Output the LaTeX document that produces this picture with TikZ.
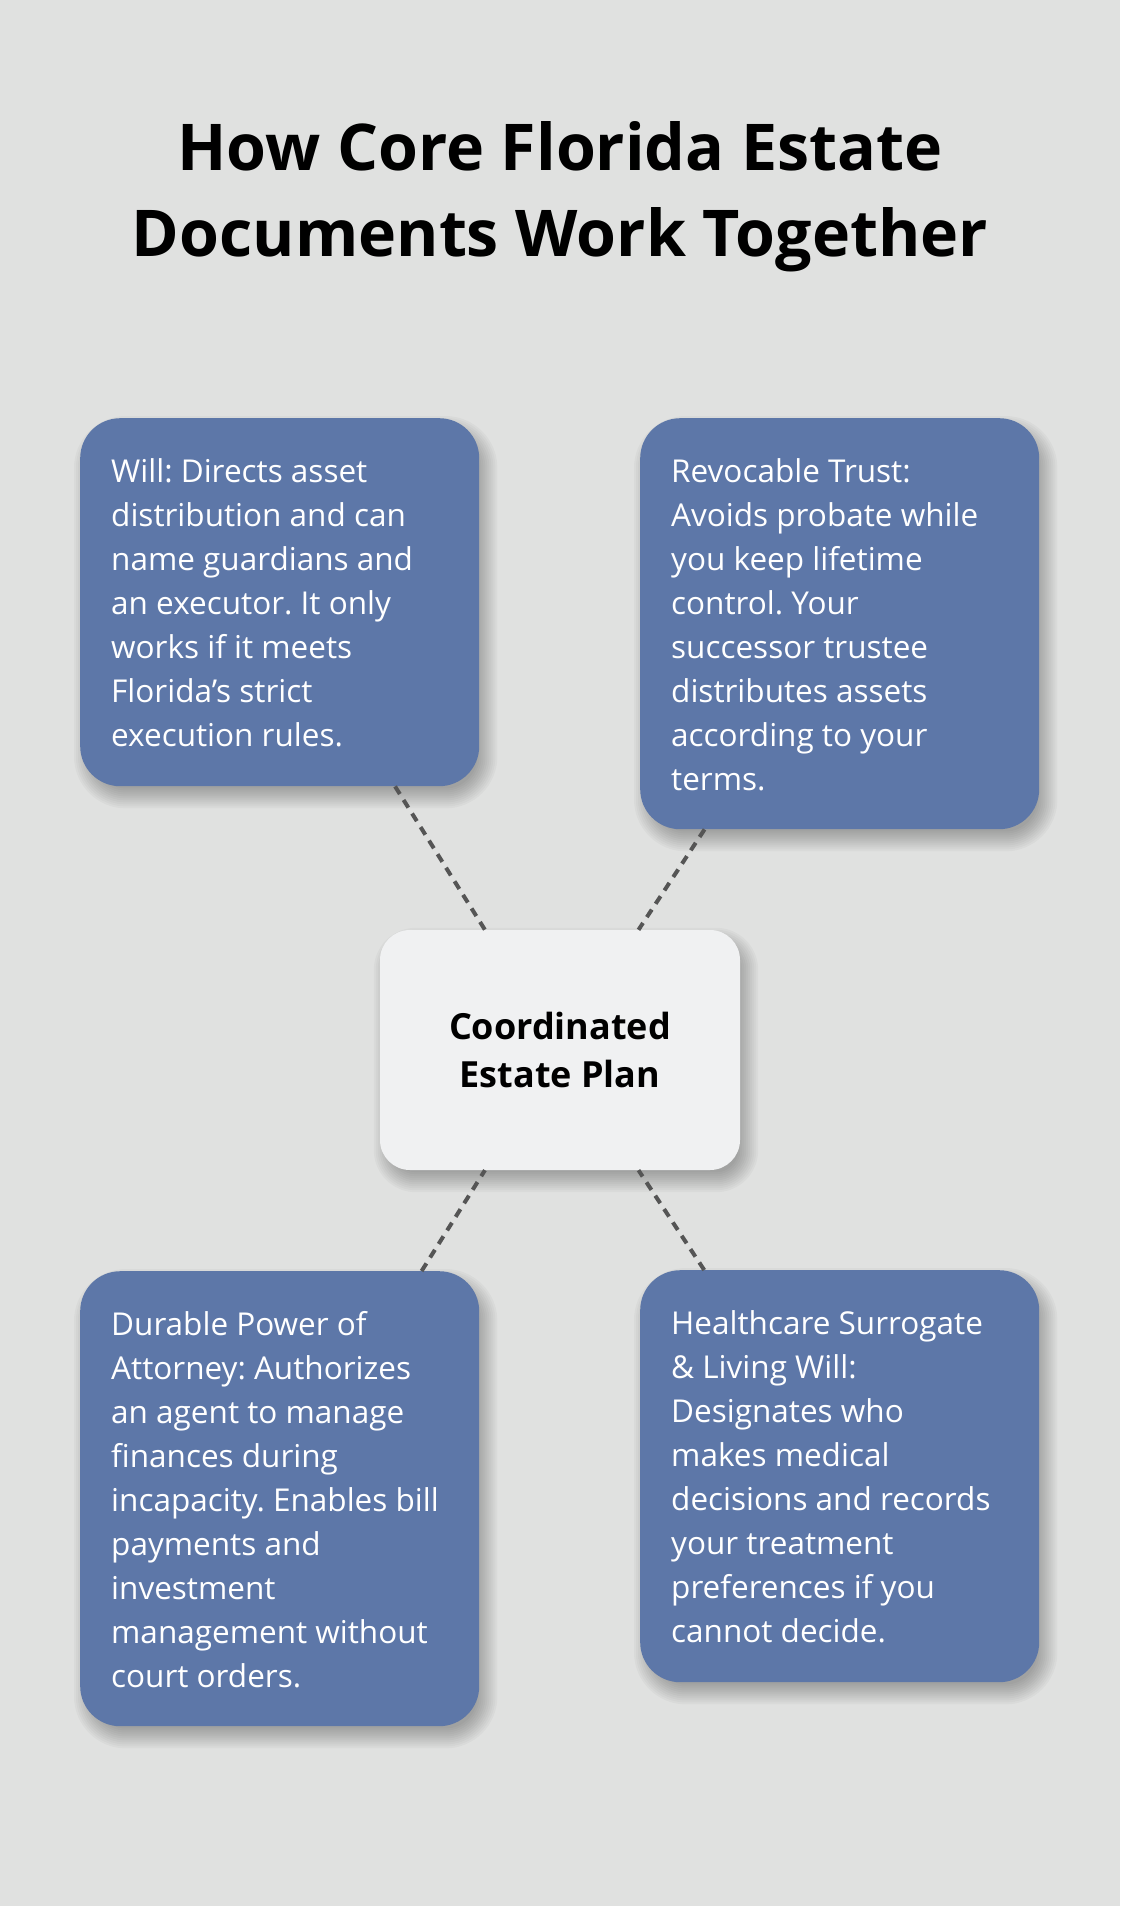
\documentclass[tikz,border=0pt]{standalone}
\usepackage{fontspec}
\setmainfont{Open Sans}
\frenchspacing
\usetikzlibrary{calc,backgrounds}
\definecolor{bg}{HTML}{E0E1E0}
\definecolor{boxblue}{HTML}{5D77A8}
\definecolor{ctrfill}{HTML}{F0F1F2}
\definecolor{linegray}{HTML}{555555}
\tikzset{
  bluebox/.style={fill=boxblue, draw=none, rounded corners=40pt,
    minimum width=399pt, anchor=north west, inner sep=0pt},
  ctrbox/.style={fill=ctrfill, draw=none, rounded corners=30pt,
    minimum width=360pt, minimum height=240pt, inner sep=0pt, align=center,
    font=\fontsize{36}{47.5}\selectfont\bfseries, text=black},
  bodytxt/.style={text=white, align=left, inner sep=0pt, anchor=base west,
    font=\fontsize{31.5}{44}\selectfont\frenchspacing},
  titletxt/.style={align=center, inner sep=0pt, anchor=base,
    font=\fontsize{64.5}{86}\selectfont\bfseries, text=black},
  link/.style={draw=linegray, line width=4pt, dash pattern=on 9pt off 7pt},
  shadelayer/.style={fill=black, opacity=0.026}
}
\newcommand\softshade[2]{%
  \foreach \e in {-8,-6,...,12}{%
    \pgfmathsetmacro\rr{max(#2+\e,4)}%
    \fill[shadelayer, rounded corners=\rr pt]
      ($(#1.north west)+(6-\e,10-\e)$) rectangle ($(#1.south east)+(6+\e,10+\e)$);
  }}
\begin{document}
\begin{tikzpicture}[x=1pt, y=-1pt]
\begin{scope}[on background layer]
\fill[bg] (0,0) rectangle (1120,1906);
\end{scope}
\useasboundingbox (0,0) rectangle (1120,1906);

% base anchor of a multi-line node is the baseline of its last line
\node[titletxt] (title) at (560,256) {How Core Florida Estate\\Documents Work Together};

\node[bluebox, minimum height=368pt] (will) at (80,418) {};
\node[bluebox, minimum height=411pt] (trust) at (640,418) {};
\node[bluebox, minimum height=455pt] (dpoa) at (80,1271) {};
\node[bluebox, minimum height=412pt] (health) at (640,1270) {};
\node[ctrbox] (ctr) at (560,1050) {Coordinated\\Estate Plan};

\begin{scope}[on background layer]
\softshade{will}{40}
\softshade{trust}{40}
\softshade{dpoa}{40}
\softshade{health}{40}
\softshade{ctr}{30}
\end{scope}

\draw[link] (will) -- (ctr);
\draw[link] (trust) -- (ctr);
\draw[link] (dpoa) -- (ctr);
\draw[link] (health) -- (ctr);

\node[bodytxt] (willtxt) at ($(will.north west)+(31,64+6*44)$)
  {Will: Directs asset\\distribution and can\\name guardians and\\an executor. It only\\works if it meets\\Florida’s strict\\execution rules.};
\node[bodytxt] (trusttxt) at ($(trust.north west)+(31,64+7*44)$)
  {Revocable Trust:\\Avoids probate while\\you keep lifetime\\control. Your\\successor trustee\\distributes assets\\according to your\\terms.};
\node[bodytxt] (dpoatxt) at ($(dpoa.north west)+(31,64+8*44)$)
  {Durable Power of\\Attorney: Authorizes\\an agent to manage\\finances during\\incapacity. Enables bill\\payments and\\investment\\management without\\court orders.};
\node[bodytxt] (healthtxt) at ($(health.north west)+(31,64+7*44)$)
  {Healthcare Surrogate\\\& Living Will:\\Designates who\\makes medical\\decisions and records\\your treatment\\preferences if you\\cannot decide.};
\end{tikzpicture}
\end{document}
